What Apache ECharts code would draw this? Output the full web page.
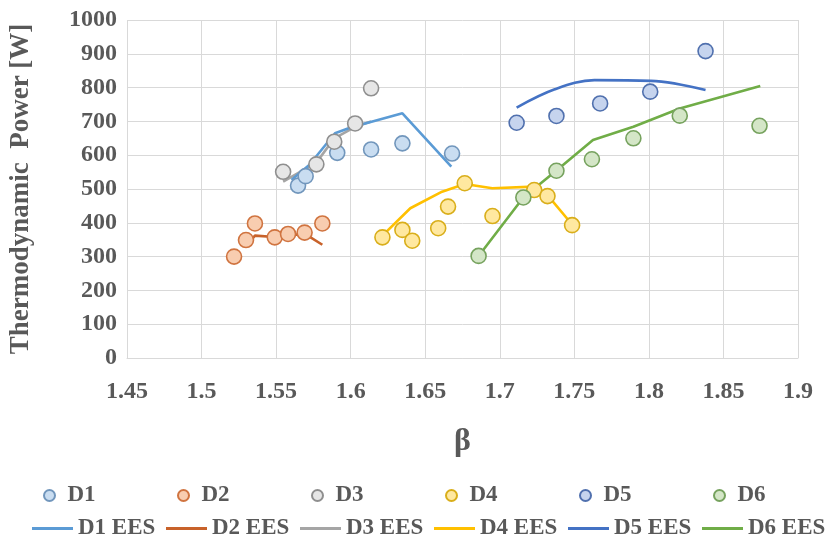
<!DOCTYPE html>
<html><head><meta charset="utf-8">
<script src="https://cdn.jsdelivr.net/npm/echarts@6/dist/echarts.min.js"></script>
<style>html,body{margin:0;padding:0;background:#fff}#c{width:827px;height:548px}</style>
</head><body><div id="c"></div>
<script>
// Measured points [beta, power W]
const D1 = [[1.5647,510],[1.5698,538],[1.591,607],[1.6137,617],[1.6347,635],[1.668,605]];
const D2 = [[1.5218,300],[1.5298,349],[1.5358,398],[1.5491,357],[1.558,367],[1.5691,371],[1.581,398]];
const D3 = [[1.5547,551],[1.577,573],[1.589,640],[1.603,694],[1.6137,798]];
const D4 = [[1.6213,357],[1.6347,379],[1.6413,347],[1.6587,384],[1.6653,448],[1.6765,517],[1.6951,420],[1.7231,497],[1.732,479],[1.7485,393]];
const D5 = [[1.7113,696],[1.738,716],[1.7673,753],[1.8009,788],[1.838,908]];
const D6 = [[1.6858,302],[1.7158,475],[1.738,554],[1.7618,588],[1.7896,650],[1.8207,717],[1.8742,687]];
// EES model lines
const D1_EES = [[1.5603,527],[1.5722,571],[1.5895,665],[1.60,682],[1.6347,724],[1.6675,566]];
const D2_EES = [[1.5298,330],[1.5358,362],[1.5491,358],[1.558,362],[1.5691,368],[1.581,335]];
const D3_EES = [[1.5547,522],[1.577,578],[1.589,650],[1.603,684],[1.6137,700]];
const D4_EES = [[1.6213,362],[1.640,443],[1.6613,492],[1.6765,515],[1.695,502],[1.7231,507],[1.732,482],[1.7485,395]];
const D5_EES = [[1.7113,741],[1.7369,795],[1.7635,822],[1.8013,820],[1.838,793]];
const D6_EES = [[1.6858,302],[1.7158,475],[1.738,555],[1.7625,645],[1.7896,684],[1.8207,738],[1.8747,805]];

const names = ['D1','D2','D3','D4','D5','D6'];
const pts = [D1,D2,D3,D4,D5,D6];
const lines = [D1_EES,D2_EES,D3_EES,D4_EES,D5_EES,D6_EES];
const lineColors = ['#5B9BD5','#C8622A','#A5A5A5','#FFC000','#4472C4','#70AD47'];
const fillColors = ['#C9DDF1','#F8CDB0','#E6E6E6','#FFE8A0','#C6D4EE','#D4E6C7'];
const borderColors = ['#7196BC','#D07440','#8F8F8F','#D9AE1A','#5070AE','#76A25E'];

const font = '"Liberation Serif","Times New Roman",serif';
const series = [];
const lineOrder = [2,0,1,3,4,5];
lineOrder.forEach(i => {
  series.push({
    name: names[i] + ' EES', type: 'line', data: lines[i], showSymbol: false, symbol: 'none',
    smooth: i === 4 ? 0.35 : false, z: 2,
    lineStyle: {color: lineColors[i], width: 2.6}, itemStyle: {color: lineColors[i]}
  });
});
names.forEach((n,i) => {
  series.push({
    name: n, type: 'scatter', data: pts[i], symbol: 'circle', symbolSize: 15, z: 3,
    itemStyle: {color: fillColors[i], borderColor: borderColors[i], borderWidth: 1.6, opacity: 1}
  });
});

const legends = [];
const step = 134;
names.forEach((n,i) => {
  legends.push({
    data: [n], left: 38 + i*step, top: 479, itemWidth: 26, itemHeight: 11, itemGap: 5,
    icon: 'circle',
    textStyle: {fontFamily: font, fontWeight: 'bold', fontSize: 23, color: '#595959'}
  });
  legends.push({
    data: [{name: n + ' EES', icon: 'rect'}], left: 27 + i*step, top: 512, itemWidth: 41, itemHeight: 3, itemGap: 2,
    textStyle: {fontFamily: font, fontWeight: 'bold', fontSize: 23, color: '#595959'}
  });
});

const chart = echarts.init(document.getElementById('c'));
chart.setOption({
  animation: false,
  backgroundColor: '#fff',
  grid: {left: 123, right: 29, top: 20, bottom: 190},
  legend: legends,
  xAxis: {
    type: 'value', min: 1.45, max: 1.9, interval: 0.05,
    name: 'β', nameLocation: 'middle', nameGap: 68,
    nameTextStyle: {fontFamily: font, fontWeight: 'bold', fontSize: 32, color: '#595959'},
    axisLine: {show: true, lineStyle: {color: '#D9D9D9', width: 1}},
    axisTick: {show: false},
    splitLine: {show: true, lineStyle: {color: '#D9D9D9', width: 1}},
    axisLabel: {margin: 22, fontFamily: font, fontWeight: 'bold', fontSize: 24, color: '#595959',
      formatter: v => String(+v.toFixed(2))}
  },
  yAxis: {
    type: 'value', min: 0, max: 1000, interval: 100,
    name: 'Thermodynamic  Power [W]', nameLocation: 'middle', nameGap: 92, nameRotate: 90,
    nameTextStyle: {fontFamily: font, fontWeight: 'bold', fontSize: 27, color: '#595959'},
    axisLine: {show: false}, axisTick: {show: false},
    splitLine: {show: true, lineStyle: {color: '#D9D9D9', width: 1}},
    axisLabel: {margin: 10, fontFamily: font, fontWeight: 'bold', fontSize: 24, color: '#595959',
      formatter: v => String(Math.round(v))}
  },
  series: series
});
</script></body></html>
